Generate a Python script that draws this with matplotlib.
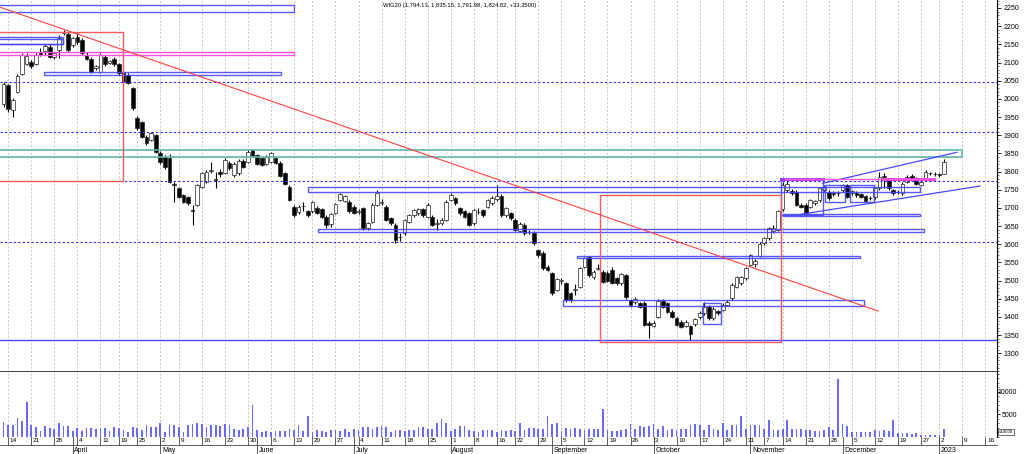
import numpy as np
import pandas as pd

import matplotlib
matplotlib.use("Agg")
import matplotlib.pyplot as plt
from matplotlib.patches import Rectangle
from matplotlib.ticker import MultipleLocator
from matplotlib.transforms import blended_transform_factory

plt.rcParams["font.family"] = ["Liberation Sans", "DejaVu Sans"]

TITLE = "WIG20 (1,794.13, 1,835.15, 1,791.98, 1,824.82, +33.3500)"
FIRST_DAY = "2022-03-11"
AXIS_END = "2023-01-20"
HOLIDAYS = ["2022-04-15", "2022-04-18", "2022-05-03", "2022-06-16",
            "2022-08-15", "2022-11-01", "2022-11-11", "2022-12-26"]

OPEN = [1985, 2038, 1970, 2020, 2068, 2096, 2102, 2097, 2130, 2132,
        2144, 2116, 2134, 2182, 2178, 2148, 2171, 2162, 2122, 2111,
        2086, 2075, 2116, 2100, 2111, 2095, 2075, 2066, 2029, 1948,
        1937, 1896, 1887, 1900, 1852, 1841, 1836, 1766, 1754, 1735,
        1731, 1695, 1708, 1758, 1772, 1802, 1780, 1800, 1797, 1824,
        1790, 1795, 1830, 1827, 1859, 1845, 1836, 1821, 1827, 1836,
        1824, 1795, 1758, 1703, 1688, 1704, 1690, 1690, 1700, 1696,
        1676, 1656, 1687, 1722, 1720, 1717, 1703, 1688, 1699, 1645,
        1662, 1708, 1713, 1703, 1671, 1653, 1619, 1630, 1662, 1680,
        1685, 1696, 1676, 1676, 1655, 1657, 1667, 1722, 1726, 1699,
        1690, 1685, 1658, 1688, 1694, 1703, 1712, 1725, 1733, 1680,
        1685, 1667, 1637, 1653, 1633, 1632, 1584, 1577, 1538, 1520,
        1474, 1500, 1492, 1465, 1475, 1483, 1538, 1564, 1509, 1533,
        1524, 1520, 1529, 1506, 1492, 1515, 1446, 1440, 1437, 1439,
        1384, 1375, 1401, 1444, 1437, 1414, 1396, 1387, 1375, 1375,
        1380, 1399, 1410, 1428, 1396, 1416, 1419, 1433, 1451, 1483,
        1492, 1506, 1543, 1545, 1568, 1602, 1616, 1635, 1639, 1696,
        1749, 1747, 1744, 1708, 1708, 1703, 1712, 1721, 1749, 1744,
        1742, 1740, 1749, 1763, 1740, 1742, 1737, 1732, 1727, 1729,
        1754, 1788, 1777, 1749, 1743, 1740, 1772, 1788, 1781, 1763,
        1777, 1796, 1794, 1792, 1794.13]
HIGH = [2045, 2042, 2002, 2068, 2125, 2126, 2108, 2125, 2140, 2150,
        2150, 2128, 2176, 2190, 2183, 2170, 2180, 2168, 2128, 2114,
        2094, 2125, 2120, 2108, 2114, 2100, 2078, 2070, 2033, 1952,
        1940, 1900, 1908, 1904, 1856, 1845, 1848, 1770, 1758, 1738,
        1734, 1708, 1766, 1800, 1804, 1827, 1800, 1806, 1836, 1828,
        1826, 1834, 1834, 1860, 1863, 1849, 1840, 1845, 1853, 1840,
        1828, 1799, 1762, 1707, 1707, 1716, 1694, 1720, 1704, 1700,
        1680, 1686, 1714, 1742, 1736, 1721, 1707, 1697, 1703, 1662,
        1712, 1748, 1724, 1707, 1675, 1657, 1630, 1670, 1684, 1698,
        1700, 1700, 1712, 1680, 1668, 1671, 1721, 1740, 1730, 1703,
        1694, 1689, 1698, 1700, 1698, 1724, 1732, 1764, 1737, 1703,
        1689, 1671, 1660, 1657, 1640, 1636, 1588, 1581, 1542, 1524,
        1507, 1506, 1496, 1469, 1490, 1538, 1565, 1568, 1528, 1545,
        1528, 1526, 1536, 1510, 1522, 1519, 1450, 1455, 1441, 1443,
        1388, 1390, 1448, 1448, 1441, 1418, 1400, 1391, 1392, 1379,
        1398, 1416, 1440, 1432, 1427, 1420, 1437, 1446, 1492, 1513,
        1513, 1538, 1574, 1560, 1605, 1620, 1648, 1652, 1694, 1770,
        1778, 1752, 1748, 1712, 1712, 1725, 1722, 1758, 1762, 1748,
        1746, 1746, 1767, 1767, 1750, 1746, 1741, 1736, 1733, 1758,
        1800, 1795, 1781, 1753, 1750, 1771, 1790, 1792, 1785, 1776,
        1803, 1800, 1798, 1797, 1835.15]
LOW = [1978, 1965, 1951, 2015, 2065, 2092, 2084, 2093, 2118, 2120,
       2112, 2110, 2112, 2176, 2130, 2144, 2152, 2120, 2106, 2070,
       2078, 2072, 2090, 2096, 2090, 2066, 2045, 2040, 1970, 1915,
       1893, 1874, 1883, 1850, 1822, 1808, 1768, 1717, 1728, 1714,
       1708, 1653, 1704, 1754, 1768, 1795, 1754, 1786, 1793, 1805,
       1786, 1791, 1810, 1823, 1840, 1818, 1814, 1817, 1823, 1820,
       1784, 1763, 1718, 1676, 1684, 1690, 1676, 1686, 1682, 1672,
       1645, 1648, 1683, 1718, 1716, 1686, 1683, 1682, 1640, 1638,
       1658, 1704, 1708, 1663, 1654, 1604, 1610, 1626, 1658, 1676,
       1681, 1676, 1672, 1649, 1640, 1653, 1663, 1718, 1708, 1681,
       1672, 1649, 1654, 1684, 1676, 1699, 1708, 1720, 1676, 1676,
       1667, 1635, 1633, 1626, 1628, 1598, 1566, 1530, 1525, 1461,
       1470, 1490, 1442, 1442, 1460, 1479, 1534, 1511, 1505, 1528,
       1493, 1495, 1490, 1488, 1488, 1450, 1428, 1436, 1424, 1374,
       1341, 1371, 1397, 1424, 1410, 1397, 1374, 1369, 1371, 1336,
       1376, 1395, 1406, 1392, 1392, 1406, 1415, 1429, 1447, 1479,
       1488, 1502, 1539, 1538, 1564, 1598, 1612, 1631, 1635, 1692,
       1745, 1736, 1704, 1699, 1680, 1699, 1708, 1717, 1745, 1722,
       1734, 1734, 1745, 1727, 1736, 1731, 1726, 1716, 1722, 1725,
       1750, 1754, 1750, 1736, 1738, 1736, 1768, 1776, 1763, 1759,
       1773, 1790, 1788, 1786, 1791.98]
CLOSE = [2040, 1972, 1998, 2062, 2120, 2118, 2090, 2122, 2122, 2146,
         2116, 2125, 2168, 2184, 2134, 2167, 2157, 2125, 2111, 2075,
         2089, 2122, 2095, 2103, 2095, 2070, 2047, 2043, 1974, 1919,
         1896, 1878, 1905, 1855, 1827, 1813, 1772, 1763, 1731, 1717,
         1712, 1692, 1763, 1797, 1800, 1804, 1778, 1792, 1833, 1809,
         1822, 1830, 1813, 1855, 1843, 1822, 1818, 1841, 1850, 1824,
         1788, 1767, 1722, 1680, 1703, 1706, 1680, 1717, 1686, 1676,
         1653, 1683, 1711, 1738, 1733, 1690, 1687, 1690, 1644, 1658,
         1708, 1740, 1715, 1667, 1658, 1612, 1621, 1667, 1680, 1694,
         1697, 1680, 1708, 1653, 1657, 1667, 1717, 1735, 1712, 1685,
         1676, 1653, 1694, 1689, 1680, 1721, 1728, 1733, 1680, 1699,
         1671, 1639, 1656, 1630, 1634, 1602, 1570, 1534, 1529, 1465,
         1503, 1501, 1446, 1446, 1476, 1534, 1561, 1515, 1524, 1534,
         1497, 1500, 1494, 1492, 1518, 1454, 1432, 1450, 1428, 1378,
         1378, 1384, 1444, 1428, 1414, 1401, 1378, 1373, 1385, 1353,
         1394, 1412, 1428, 1396, 1423, 1410, 1433, 1442, 1488, 1509,
         1509, 1534, 1570, 1555, 1601, 1616, 1644, 1644, 1690, 1762,
         1767, 1740, 1708, 1703, 1685, 1721, 1718, 1754, 1757, 1726,
         1738, 1741, 1763, 1731, 1746, 1735, 1730, 1720, 1728, 1754,
         1786, 1784, 1754, 1740, 1744, 1767, 1786, 1780, 1767, 1772,
         1799, 1795, 1792, 1791.47, 1824.82]
VOLUME = [3330, 2740, 2660, 4220, 3630, 7770, 2740, 2220, 1330, 2370,
          1920, 1850, 3180, 2370, 2370, 1260, 2000, 1260, 1920, 2000,
          1780, 2000, 1920, 1260, 2290, 2000, 1480, 1000, 2220, 2000,
          1480, 2590, 2220, 2150, 3110, 1110, 2590, 2590, 2220, 1110,
          2740, 2960, 3110, 2960, 2220, 2740, 2740, 2520, 2960, 2740,
          1850, 1480, 1850, 2220, 7030, 1480, 1110, 1260, 1100, 1260,
          1260, 1260, 1850, 1480, 2590, 1300, 4590, 1110, 1480, 1330,
          1110, 1630, 1480, 1260, 1850, 1110, 1850, 1480, 2290, 2220,
          1850, 2220, 2370, 2220, 1180, 1480, 1480, 1260, 1480, 1480,
          2220, 2220, 1850, 1850, 3110, 4070, 3110, 1330, 1850, 2370,
          2370, 1480, 1330, 1110, 1480, 1480, 1480, 1110, 1480, 1330,
          1630, 1260, 3180, 1630, 2070, 1920, 1850, 1850, 4740, 2810,
          3180, 1330, 2000, 1850, 1920, 1850, 1630, 1700, 1850, 1700,
          6290, 1480, 1260, 1330, 1480, 1780, 2960, 1850, 2370, 2220,
          2520, 2810, 1850, 2370, 1480, 1850, 1630, 1850, 1850, 2590,
          2960, 2740, 1480, 2740, 1850, 1630, 3180, 1480, 2590, 2590,
          4590, 1850, 2590, 2590, 2740, 1850, 3700, 1480, 1480, 1850,
          3700, 1850, 1850, 1850, 1630, 1480, 1330, 1330, 1480, 2220,
          1480, 12950, 2960, 2370, 1110, 1110, 1110, 1110, 1110, 1630,
          1330, 1480, 1330, 3850, 890, 890, 890, 740, 890, 370,
          370, 370, 370, 370, 1850]

# hand-drawn analysis objects: x in trading-day numbers, y in index points
DOTTED_LEVELS = [2047, 1910, 1773, 1607]
SUPPORT_LEVEL = 1336
BLUE_BOXES = [(-1, 63.0, 2238, 2257), (-1, 12.9, 2151, 2169), (-1, 12.9, 2151, 2164),
              (8.8, 60.1, 2065, 2074), (66.0, 198.8, 1745, 1758), (68.2, 199.7, 1633, 1642),
              (124.4, 185.8, 1563, 1568), (121.4, 186.7, 1430, 1446), (151.7, 155.6, 1380, 1439),
              (168.7, 177.7, 1680, 1779), (169.0, 198.8, 1678, 1683),
              (178.2, 182.6, 1716, 1763), (183.6, 188.8, 1716, 1763)]
PINK_BOX = (-1, 63.0, 2120, 2130)
TEAL_BOX = (-1, 207.9, 1841, 1859)
RED_BOXES = [(-1, 25.8, 1774, 2185), (129.4, 168.7, 1331, 1735)]
RED_TREND = ([-0.78, 189.7], [2252, 1416])
UPPER_CHANNEL = ([177.7, 206.8], [1767.6, 1852.9])
LOWER_CHANNEL = ([172.8, 211.8], [1682, 1760])
PURPLE_LINE = (168.7, 177.7, 1779)
PINK_LINE = (169.5, 202.1, 1779)
PINK_BAND = (190.5, 202.1, 1776, 1782)

days = pd.bdate_range(FIRST_DAY, AXIS_END)
days = days[~days.isin(pd.to_datetime(HOLIDAYS))]
weeks = days.to_period("W")
months = days.to_period("M")
week_starts = [k for k in range(1, len(days)) if weeks[k] != weeks[k - 1]]
month_starts = [k for k in range(1, len(days)) if months[k] != months[k - 1]]

n = len(CLOSE)
x = np.arange(n)
o = np.array(OPEN, float); c = np.array(CLOSE, float)
h = np.array(HIGH, float); lo = np.array(LOW, float)

W, H = 1024, 454
fig = plt.figure(figsize=(W / 100, H / 100), dpi=100)
ax = fig.add_axes([0, 82 / H, 997 / W, 372 / H])
axv = fig.add_axes([0, 17 / H, 997 / W, 65 / H], sharex=ax)
xmin, xmax = -0.78, 215.5
ax.set_xlim(xmin, xmax)
ax.set_ylim(1248.3, 2272)
axv.set_ylim(0, 14444)

for a in (ax, axv):
    for k in week_starts:
        a.axvline(k, color="#c4c4c4", lw=0.7, ls=(0, (2, 2)), zorder=0)
    for s in ("left", "top", "bottom"):
        a.spines[s].set_visible(False)
    a.spines["right"].set_linewidth(0.8)
    a.yaxis.tick_right()
    a.tick_params(axis="x", which="both", bottom=False, labelbottom=False)
ax.spines["bottom"].set_visible(True)
ax.spines["bottom"].set_linewidth(1.3)
ax.spines["bottom"].set_color("#333333")

# candles
up = c >= o
ax.vlines(x, lo, h, color="black", lw=0.8, zorder=2)
body = np.maximum(np.abs(c - o), 1.2)
ax.bar(x, body, bottom=np.minimum(o, c), width=0.8,
       color=np.where(up, "white", "black"), edgecolor="#222222", lw=0.5, zorder=3)

# analysis drawings
for lvl in DOTTED_LEVELS:
    ax.axhline(lvl, color="#2a2aff", lw=0.8, ls=(0, (2, 2)), zorder=4)
ax.axhline(SUPPORT_LEVEL, color="#4a4aff", lw=1.0, zorder=4)
for x0, x1, y0, y1 in BLUE_BOXES:
    ax.add_patch(Rectangle((x0, y0), x1 - x0, y1 - y0, fill=False,
                           ec="#4646ff", lw=1.0, alpha=0.9, zorder=4))
x0, x1, y0, y1 = PINK_BOX
ax.add_patch(Rectangle((x0, y0), x1 - x0, y1 - y0, fill=False, ec="#ff4fe0", lw=1.0, zorder=4))
x0, x1, y0, y1 = TEAL_BOX
ax.add_patch(Rectangle((x0, y0), x1 - x0, y1 - y0, fill=False, ec="#5fb5ab", lw=1.2, zorder=4))
for x0, x1, y0, y1 in RED_BOXES:
    ax.add_patch(Rectangle((x0, y0), x1 - x0, y1 - y0, fill=False, ec="#ff5a5a", lw=1.0, zorder=4))
ax.plot(*RED_TREND, color="#ff4040", lw=0.8, zorder=4)
ax.plot(*UPPER_CHANNEL, color="#4646ff", lw=0.9, zorder=4)
ax.plot(*LOWER_CHANNEL, color="#4646ff", lw=0.9, zorder=4)
ax.plot(PURPLE_LINE[:2], [PURPLE_LINE[2]] * 2, color="#9a2cff", lw=2.0, zorder=5)
ax.plot(PINK_LINE[:2], [PINK_LINE[2]] * 2, color="#ff55e6", lw=1.0, zorder=5)
x0, x1, y0, y1 = PINK_BAND
ax.add_patch(Rectangle((x0, y0), x1 - x0, y1 - y0, fc="#ff55e6", ec="#e040d0", lw=0.6, zorder=5))

# price axis
ax.set_yticks(np.arange(1300, 2251, 50))
ax.yaxis.set_minor_locator(MultipleLocator(10))
ax.tick_params(axis="y", which="major", length=3, width=0.6, pad=1.5, labelsize=5)
ax.tick_params(axis="y", which="minor", length=1.5, width=0.4)

# volume
axv.bar(x, VOLUME, width=0.38, color="#6a6aff", zorder=2)
axv.set_yticks([5000, 10000])
axv.yaxis.set_minor_locator(MultipleLocator(1000))
axv.tick_params(axis="y", which="major", length=2.5, width=0.6, pad=12, labelsize=5)
axv.tick_params(axis="y", which="minor", length=1.2, width=0.4)
for t in axv.get_yticklabels():
    t.set_horizontalalignment("right")

# date row under the volume panel
tr = blended_transform_factory(axv.transData, axv.transAxes)
row = 8 / 65
axv.plot([xmin, xmax], [-row, -row], transform=tr, clip_on=False, color="#444444", lw=0.6)
for k in week_starts:
    if k > xmax:
        continue
    axv.plot([k, k], [0, -row], transform=tr, clip_on=False, color="#444444", lw=0.6)
    axv.text(k + 0.35, -4 / 65, str(days[k].day), transform=tr, fontsize=4.6,
             ha="left", va="center")
for k in month_starts:
    if k > xmax:
        continue
    name = days[k].strftime("%B") if days[k].month != 1 else str(days[k].year)
    axv.plot([k, k], [0, -17 / 65], transform=tr, clip_on=False, color="#444444", lw=0.6)
    axv.text(k + 0.35, -13.5 / 65, name, transform=tr, fontsize=5, ha="left", va="center")

fig.text(1006 / W, 1 - 432 / H, "x10000", fontsize=3.2, ha="center", va="center",
         bbox=dict(boxstyle="square,pad=0.15", fc="white", ec="black", lw=0.4))
fig.text(383 / W, 1 - 5 / H, TITLE, fontsize=4.2, ha="left", va="center")

fig.savefig("out.png", dpi=100)
